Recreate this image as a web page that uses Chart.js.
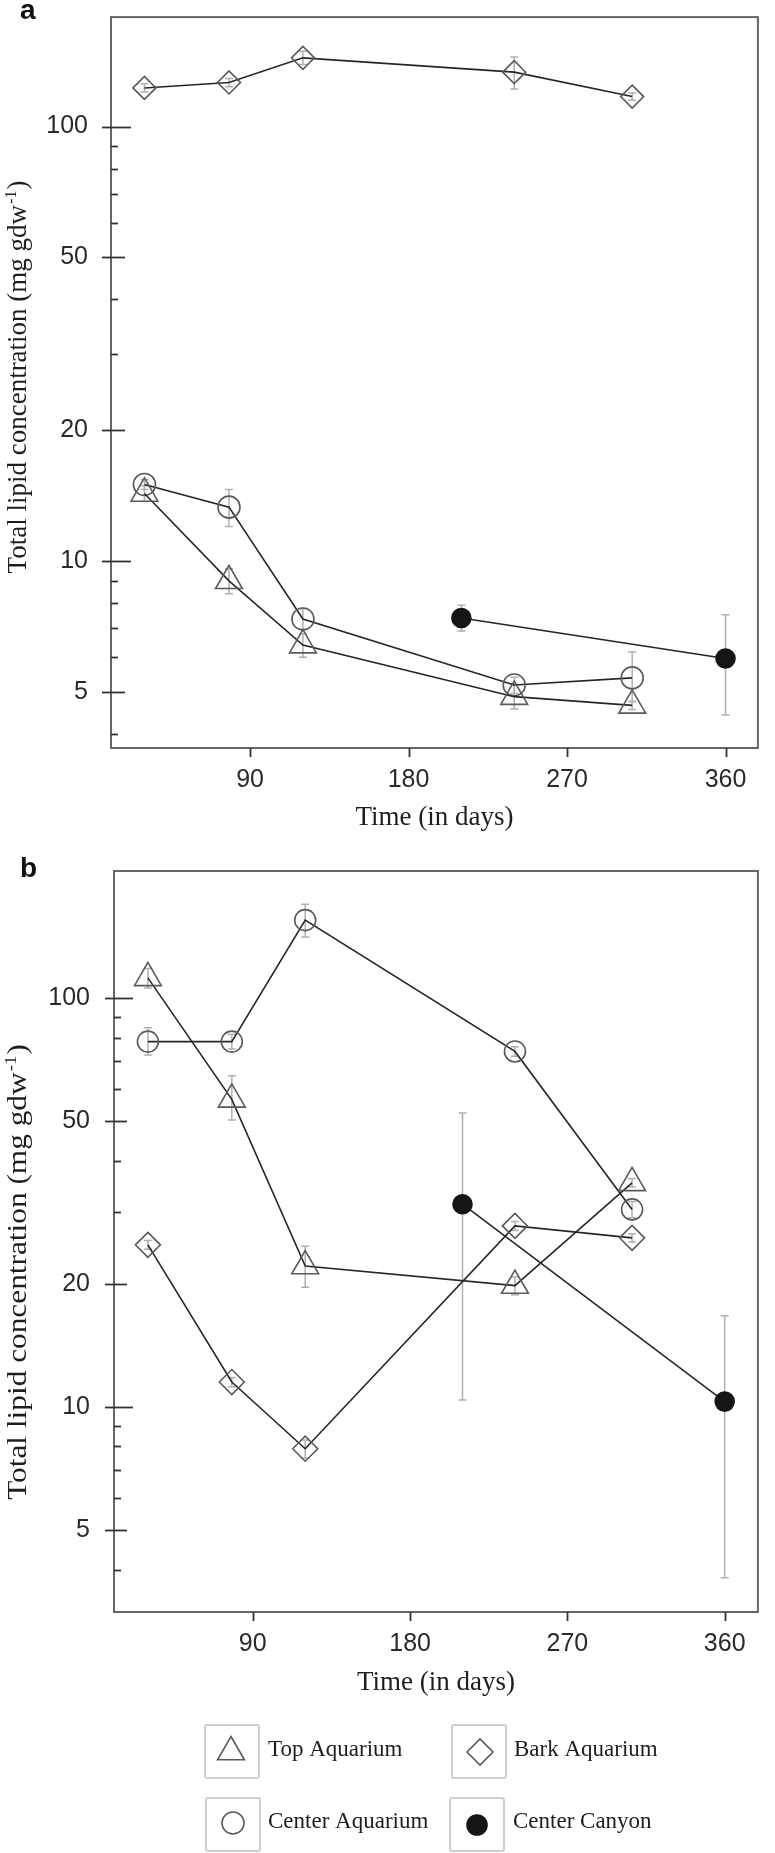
<!DOCTYPE html>
<html>
<head>
<meta charset="utf-8">
<script src="https://cdn.jsdelivr.net/npm/chart.js@4.4.1/dist/chart.umd.min.js"></script>
<style>
  html, body { margin: 0; padding: 0; background: #ffffff; }
  body { width: 775px; height: 1853px; position: relative; overflow: hidden; }
  canvas { position: absolute; left: 0; }
  #ca { top: 0; }
  #cb { top: 850px; }
</style>
</head>
<body>
<canvas id="ca" width="775" height="850"></canvas>
<canvas id="cb" width="775" height="1003"></canvas>
<script>
// ---------- data ----------
const days = [30, 78, 120, 240, 307];
const canyonDays = [210, 360];
const xTickValues = [90, 180, 270, 360];
const yTickValues = [4, 5, 6, 7, 8, 9, 10, 20, 30, 40, 50, 60, 70, 80, 90, 100];
const yLabelValues = [5, 10, 20, 50, 100];
const seriesNames = ['Top Aquarium', 'Bark Aquarium', 'Center Aquarium', 'Center Canyon'];

// panel a
const aTop = [14.3, 9.0, 6.4, 4.87, 4.65];
const aTopLo = [13.7, 8.4, 6.0, 4.56, 4.55];
const aTopHi = [14.9, 9.6, 6.8, 5.2, 4.75];
const aCenter = [15.0, 13.3, 7.35, 5.18, 5.38];
const aCenterLo = [14.6, 12.0, 6.95, 4.95, 4.75];
const aCenterHi = [15.4, 14.6, 7.77, 5.4, 6.17];
const aBark = [122.7, 126.3, 143.9, 133.4, 117.2];
const aBarkLo = [120, 123.5, 139, 122, 115];
const aBarkHi = [125.5, 129, 149, 144.5, 119.5];
const aCanyon = [7.39, 5.96];
const aCanyonLo = [6.9, 4.42];
const aCanyonHi = [7.91, 7.52];

// panel b
const bTop = [112, 56.5, 22.1, 19.8, 35.3];
const bTopLo = [105.8, 50.3, 19.6, 18.8, 34.5];
const bTopHi = [118, 64.5, 24.7, 20.8, 36.2];
const bCenter = [78.2, 78.2, 155, 74, 30.4];
const bCenterLo = [72.5, 75, 141, 72, 29];
const bCenterHi = [84.5, 81.5, 169.6, 76, 31.8];
const bBark = [24.9, 11.5, 7.9, 27.7, 25.9];
const bBarkLo = [24.3, 11.2, 7.5, 27, 25.3];
const bBarkHi = [25.5, 11.8, 8.3, 28.4, 26.5];
const bCanyon = [31.3, 10.3];
const bCanyonLo = [10.4, 3.82];
const bCanyonHi = [52.3, 16.7];

// ---------- helpers ----------
const SANS = '"Liberation Sans", Arial, sans-serif';
const SERIF = '"Liberation Serif", "Times New Roman", serif';
const pts = (xs, ys) => xs.map((x, i) => ({ x: x, y: ys[i] }));

function ds(label, xs, ys, style, radius, filled) {
  return {
    label: label,
    data: pts(xs, ys),
    borderColor: '#262626',
    borderWidth: 1.6,
    pointStyle: style,
    pointRadius: radius,
    pointHoverRadius: radius,
    pointBorderColor: filled ? '#151515' : '#5a5a5a',
    pointBackgroundColor: filled ? '#151515' : 'rgba(0,0,0,0)',
    pointBorderWidth: 1.6,
    tension: 0,
    fill: false,
    clip: false
  };
}

function drawMarker(ctx, style, x, y, r, filled) {
  ctx.save();
  ctx.beginPath();
  if (style === 'triangle') {
    for (let k = 0; k < 3; k++) {
      const a = k * 2 * Math.PI / 3;
      const px = x + Math.sin(a) * r, py = y - Math.cos(a) * r;
      if (k === 0) ctx.moveTo(px, py); else ctx.lineTo(px, py);
    }
    ctx.closePath();
  } else if (style === 'rectRot') {
    ctx.moveTo(x - r, y); ctx.lineTo(x, y - r); ctx.lineTo(x + r, y); ctx.lineTo(x, y + r); ctx.closePath();
  } else {
    ctx.arc(x, y, r, 0, Math.PI * 2);
  }
  if (filled) { ctx.fillStyle = '#151515'; ctx.fill(); }
  ctx.strokeStyle = filled ? '#151515' : '#5a5a5a';
  ctx.lineWidth = 1.6;
  ctx.stroke();
  ctx.restore();
}

function drawYTitle(ctx, x, cy, sx) {
  const main = 'Total lipid concentration (mg gdw';
  const sup = '-1';
  const end = ')';
  ctx.save();
  ctx.translate(x, cy);
  ctx.rotate(-Math.PI / 2);
  ctx.scale(sx, 1);
  ctx.fillStyle = '#1e1e1e';
  ctx.textAlign = 'left';
  ctx.textBaseline = 'alphabetic';
  ctx.font = '27px ' + SERIF;
  const w1 = ctx.measureText(main).width;
  const w3 = ctx.measureText(end).width;
  ctx.font = '16px ' + SERIF;
  const w2 = ctx.measureText(sup).width;
  const total = w1 + w2 + w3 + 2;
  let s = -total / 2;
  ctx.font = '27px ' + SERIF;
  ctx.fillText(main, s, 0);
  s += w1 + 1;
  ctx.font = '16px ' + SERIF;
  ctx.fillText(sup, s, -10);
  s += w2 + 1;
  ctx.font = '27px ' + SERIF;
  ctx.fillText(end, s, 0);
  ctx.restore();
}

function makePlugin(p) {
  return {
    id: 'panelDecor' + p.name,
    beforeDatasetsDraw(chart) {
      const ctx = chart.ctx, xs = chart.scales.x, ys = chart.scales.y;
      ctx.save();
      ctx.strokeStyle = '#b0b0b0';
      ctx.lineWidth = 1.5;
      p.errors.forEach(e => {
        e.x.forEach((d, i) => {
          const px = xs.getPixelForValue(d);
          const y1 = ys.getPixelForValue(e.lo[i]);
          const y2 = ys.getPixelForValue(e.hi[i]);
          ctx.beginPath();
          ctx.moveTo(px, y1); ctx.lineTo(px, y2);
          ctx.moveTo(px - 4, y1); ctx.lineTo(px + 4, y1);
          ctx.moveTo(px - 4, y2); ctx.lineTo(px + 4, y2);
          ctx.stroke();
        });
      });
      ctx.restore();
    },
    afterDraw(chart) {
      const ctx = chart.ctx, xs = chart.scales.x, ys = chart.scales.y;
      const ca = chart.chartArea;
      ctx.save();
      // frame
      ctx.strokeStyle = '#666666';
      ctx.lineWidth = 2;
      ctx.strokeRect(ca.left, ca.top, ca.right - ca.left, ca.bottom - ca.top);
      // y ticks
      ctx.strokeStyle = '#333333';
      ctx.lineWidth = 1.8;
      yTickValues.forEach(v => {
        const py = Math.round(ys.getPixelForValue(v)) + 0.5;
        let x0, x1;
        if (v === 10 || v === 100) { x0 = ca.left - 9; x1 = ca.left + p.longIn; }
        else if (yLabelValues.includes(v)) { x0 = ca.left - 9; x1 = ca.left + p.midIn; }
        else { x0 = ca.left; x1 = ca.left + 7; }
        ctx.beginPath(); ctx.moveTo(x0, py); ctx.lineTo(x1, py); ctx.stroke();
      });
      // x ticks
      xTickValues.forEach(v => {
        const px = Math.round(xs.getPixelForValue(v)) + 0.5;
        ctx.beginPath(); ctx.moveTo(px, ca.bottom); ctx.lineTo(px, ca.bottom + 9); ctx.stroke();
      });
      ctx.restore();
      // y title
      drawYTitle(ctx, 26, p.titleCY, p.titleSX);
      // panel letter
      ctx.save();
      ctx.fillStyle = '#111';
      ctx.font = 'bold 28px ' + SANS;
      ctx.textAlign = 'left';
      ctx.textBaseline = 'alphabetic';
      ctx.fillText(p.name, 20, p.letterY);
      ctx.restore();
      // legend
      if (p.legend) {
        const items = [
          { name: seriesNames[0], style: 'triangle', r: 15.5, filled: false, bx: 205, by: 875, mx: 231, my: 902, tx: 268, ty: 900 },
          { name: seriesNames[1], style: 'rectRot', r: 13, filled: false, bx: 452, by: 875, mx: 480, my: 902, tx: 514, ty: 900 },
          { name: seriesNames[2], style: 'circle', r: 11, filled: false, bx: 206, by: 948, mx: 233, my: 973, tx: 268, ty: 972 },
          { name: seriesNames[3], style: 'circle', r: 10, filled: true, bx: 450, by: 948, mx: 477, my: 975, tx: 513, ty: 972 }
        ];
        items.forEach(it => {
          ctx.save();
          ctx.strokeStyle = '#cfcfcf';
          ctx.lineWidth = 2;
          ctx.beginPath();
          ctx.roundRect ? ctx.roundRect(it.bx, it.by, 54, 53, 2) : ctx.rect(it.bx, it.by, 54, 53);
          ctx.stroke();
          ctx.restore();
          drawMarker(ctx, it.style, it.mx, it.my, it.r, it.filled);
          ctx.save();
          ctx.fillStyle = '#1e1e1e';
          ctx.font = '23px ' + SERIF;
          ctx.textAlign = 'left';
          ctx.textBaseline = 'middle';
          ctx.fillText(it.name, it.tx, it.ty);
          ctx.restore();
        });
      }
    }
  };
}

function makeChart(canvasId, p) {
  return new Chart(document.getElementById(canvasId), {
    type: 'line',
    data: { datasets: p.datasets },
    options: {
      responsive: false,
      animation: false,
      devicePixelRatio: 1,
      events: [],
      layout: { padding: p.padding },
      plugins: { legend: { display: false }, tooltip: { enabled: false }, title: { display: false } },
      scales: {
        x: {
          type: 'linear',
          min: p.xMin, max: p.xMax,
          grid: { display: false, drawTicks: false },
          border: { display: false },
          ticks: { font: { family: SANS, size: 25 }, color: '#2a2a2a', padding: 17, maxRotation: 0, autoSkip: false },
          afterBuildTicks: s => { s.ticks = xTickValues.map(v => ({ value: v })); },
          afterFit: s => { s.height = p.xAxisH; s.paddingLeft = 0; s.paddingRight = 0; },
          title: { display: true, text: 'Time (in days)', font: { family: SERIF, size: 27 }, color: '#1e1e1e', padding: 0 }
        },
        y: {
          type: 'logarithmic',
          min: p.yMin, max: p.yMax,
          grid: { display: false, drawTicks: false },
          border: { display: false },
          ticks: {
            font: { family: SANS, size: 25 }, color: '#2a2a2a', padding: p.yPad, autoSkip: false,
            callback: v => (yLabelValues.includes(v) ? String(v) : '')
          },
          afterBuildTicks: s => { s.ticks = yTickValues.map(v => ({ value: v })); },
          afterFit: s => { s.width = p.yAxisW; s.paddingTop = 0; s.paddingBottom = 0; }
        }
      }
    },
    plugins: [makePlugin(p)]
  });
}

makeChart('ca', {
  name: 'a',
  padding: { left: 0, top: 6, right: 4, bottom: 15.8 },
  xAxisH: 86.2, yAxisW: 111, yPad: 23,
  xMin: 11.0, xMax: 378.4, yMin: 3.71, yMax: 178.6,
  longIn: 20, midIn: 14,
  titleCY: 377, titleSX: 1.0, letterY: 19, legend: false,
  datasets: [
    ds(seriesNames[0], days, aTop, 'triangle', 15.5, false),
    ds(seriesNames[2], days, aCenter, 'circle', 11, false),
    ds(seriesNames[1], days, aBark, 'rectRot', 11.5, false),
    ds(seriesNames[3], canyonDays, aCanyon, 'circle', 9.5, true)
  ],
  errors: [
    { x: days, lo: aTopLo, hi: aTopHi },
    { x: days, lo: aCenterLo, hi: aCenterHi },
    { x: days, lo: aBarkLo, hi: aBarkHi },
    { x: canyonDays, lo: aCanyonLo, hi: aCanyonHi }
  ]
});

makeChart('cb', {
  name: 'b',
  padding: { left: 0, top: 21, right: 2, bottom: 153.8 },
  xAxisH: 87.2, yAxisW: 114, yPad: 24,
  xMin: 10.6, xMax: 379.0, yMin: 3.15, yMax: 204.4,
  longIn: 19, midIn: 13,
  titleCY: 422, titleSX: 1.16, letterY: 27, legend: true,
  datasets: [
    ds(seriesNames[0], days, bTop, 'triangle', 15.5, false),
    ds(seriesNames[2], days, bCenter, 'circle', 10.5, false),
    ds(seriesNames[1], days, bBark, 'rectRot', 12.5, false),
    ds(seriesNames[3], canyonDays, bCanyon, 'circle', 9.5, true)
  ],
  errors: [
    { x: days, lo: bTopLo, hi: bTopHi },
    { x: days, lo: bCenterLo, hi: bCenterHi },
    { x: days, lo: bBarkLo, hi: bBarkHi },
    { x: canyonDays, lo: bCanyonLo, hi: bCanyonHi }
  ]
});
</script>
</body>
</html>
